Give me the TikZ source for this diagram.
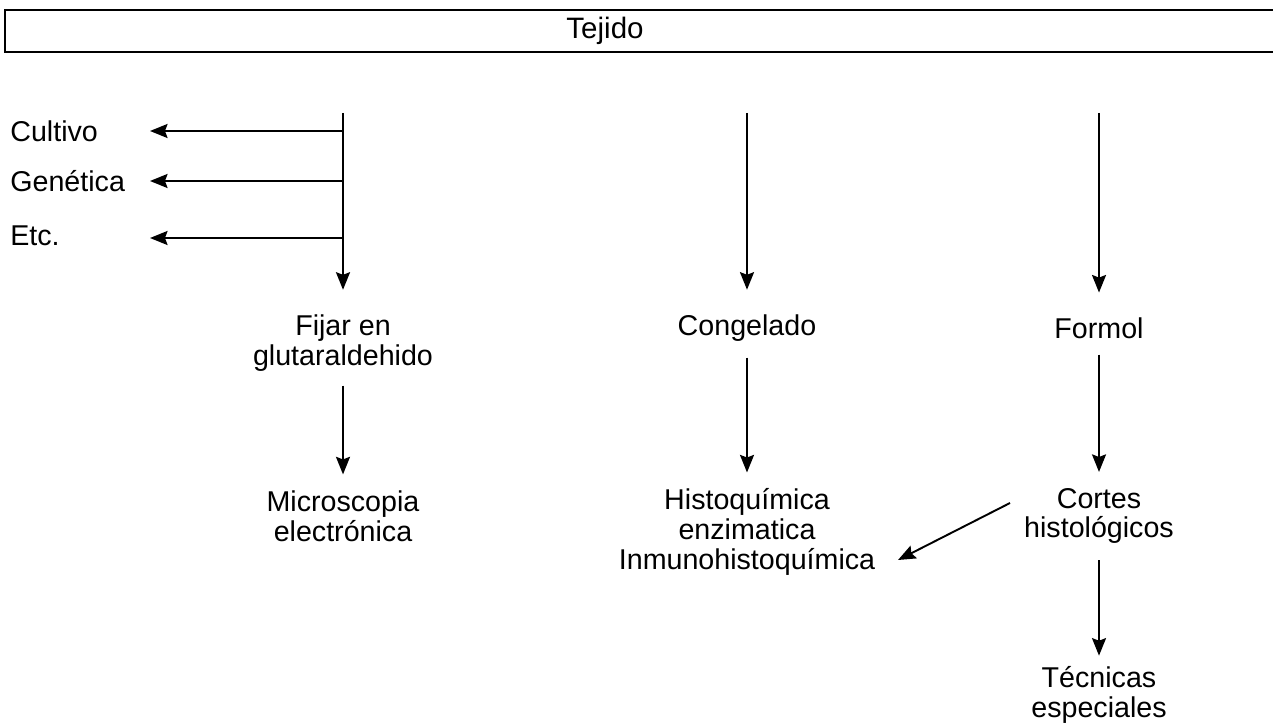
\documentclass[tikz,border=0pt]{standalone}
\usepackage{fontspec}
\setmainfont{Liberation Sans}
\usetikzlibrary{arrows.meta}
\begin{document}
\begin{tikzpicture}[x=0.02cm,y=-0.02cm,
	flecha/.style={line width=1.1pt,-{Stealth[length=10pt,width=8pt,inset=1.5pt]}},
	texto/.style={align=center,font=\fontsize{16.3pt}{17pt}\selectfont,inner sep=0pt}]

		\clip (0,0) rectangle (1273,726);
		\fill[white] (0,0) rectangle (1273,726);

		% caja superior
		\draw[line width=1pt] (5,10) rectangle (1300,52);
		\node[texto,font=\fontsize{16.8pt}{18pt}\selectfont] (tejido) at (605,31) {Tejido};

		% columna izquierda
		\coordinate (a0) at (343,113);
		\coordinate (a1) at (343,131);
		\coordinate (a2) at (343,181);
		\coordinate (a3) at (343,238);
		\coordinate (b1) at (150,131);
		\coordinate (b2) at (150,181);
		\coordinate (b3) at (150,238);
		\node[texto,anchor=west] (cultivo) at (10,131) {Cultivo};
		\node[texto,anchor=west] (genetica) at (10,181) {Genética};
		\node[texto,anchor=west] (etc) at (10,236) {Etc.};
		\node[texto] (fijar) at (343,343) {Fijar en\\glutaraldehido};
		\node[texto] (micro) at (343,516) {Microscopia\\electrónica};

		\draw[flecha,shorten >=14pt] (a0) -- (fijar.north);
		\draw[flecha] (a1) -- (b1);
		\draw[flecha] (a2) -- (b2);
		\draw[flecha] (a3) -- (b3);
		\draw[flecha,shorten <=8pt,shorten >=9pt] (fijar.south) -- (micro.north);

		% columna central
		\coordinate (c0) at (747,113);
		\node[texto] (congelado) at (747,328) {Congelado};
		\node[texto] (histo) at (747,532) {Histoquímica\\enzimatica\\Inmunohistoquímica};
		\draw[flecha,shorten >=14pt] (c0) -- (congelado.north);
		\draw[flecha,shorten <=9pt,shorten >=9pt] (congelado.south) -- (histo.north);

		% columna derecha
		\coordinate (d0) at (1099,113);
		\node[texto] (formol) at (1099,328) {Formol};
		\node[texto] (cortes) at (1099,516) {Cortes\\histológicos};
		\node[texto] (tecnicas) at (1099,695) {Técnicas\\especiales};
		\coordinate (e1) at (1010,503);
		\coordinate (e2) at (898,560);
		\draw[flecha,shorten >=14pt] (d0) -- (formol.north);
		\draw[flecha,shorten <=9pt,shorten >=9pt] (formol.south) -- (cortes.north);
		\draw[flecha] (e1) -- (e2);
		\draw[flecha,shorten <=9pt,shorten >=6pt] (cortes.south) -- (tecnicas.north);
	\end{tikzpicture}
\end{document}
